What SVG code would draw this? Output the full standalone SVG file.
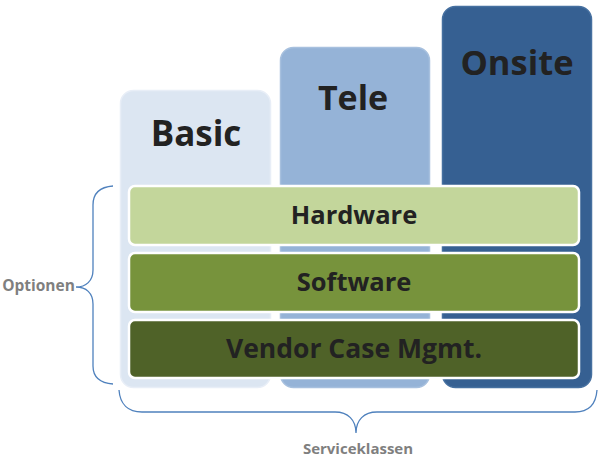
<svg xmlns="http://www.w3.org/2000/svg" width="613" height="463" viewBox="0 0 613 463">
<style>
.col{stroke-width:1.5}
.bar{stroke:#ffffff;stroke-width:2.5}
.t{font-family:"Open Sans","DejaVu Sans",sans-serif;font-weight:bold;fill:#222222;text-anchor:middle}
.lbl{font-family:"Open Sans","DejaVu Sans",sans-serif;font-weight:bold;fill:#7f7f7f;text-anchor:middle}
.brace{fill:none;stroke:#4f81bd;stroke-width:1.3}
</style>
<rect width="613" height="463" fill="#ffffff"/>
<g id="basic"><rect class="col" x="120.5" y="90.5" width="150" height="297" rx="13" fill="#dce6f2" stroke="#e8eef7"/><text class="t" x="196" y="146" font-size="35">Basic</text></g>
<g id="tele"><rect class="col" x="280.5" y="47.5" width="149" height="340" rx="13" fill="#95b3d7" stroke="#a7c0de"/><text class="t" x="353" y="110" font-size="34">Tele</text></g>
<g id="onsite"><rect class="col" x="442.5" y="6.5" width="149" height="381" rx="13" fill="#366092" stroke="#4670a0"/><text class="t" x="517" y="75" font-size="34.5">Onsite</text></g>
<g id="hardware"><rect class="bar" x="129" y="186" width="450" height="59" rx="6" fill="#c3d69b"/><text class="t" x="354" y="224" font-size="25.5">Hardware</text></g>
<g id="software"><rect class="bar" x="129" y="253" width="450" height="59" rx="6" fill="#77933c"/><text class="t" x="354" y="291" font-size="25.5">Software</text></g>
<g id="vendor"><rect class="bar" x="129" y="320" width="450" height="58" rx="6" fill="#4f6228"/><text class="t" x="354" y="358" font-size="26.5">Vendor Case Mgmt.</text></g>
<g id="connectors">
<path class="brace" d="M113,186 C100,187 93,193 93,205 L93,270 C93,281 86,287 76,287 C86,287 93,293 93,304 L93,366 C93,378 100,383 113,384"/>
<path class="brace" d="M119,390 C120,404 128,412 142,412 L335,412 C348,412 356,420 356,433 C356,420 364,412 377,412 L575,412 C589,412 596,404 597,390"/>
</g>
<g id="optionen"><text class="lbl" x="38.5" y="291" font-size="15.5">Optionen</text></g>
<g id="serviceklassen"><text class="lbl" x="358" y="454" font-size="15">Serviceklassen</text></g>
</svg>
